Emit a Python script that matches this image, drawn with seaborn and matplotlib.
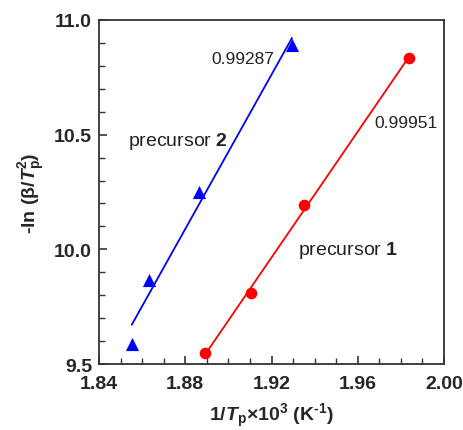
import numpy as np
import pandas as pd
import matplotlib
matplotlib.use("Agg")
import matplotlib.pyplot as plt
import seaborn as sns
from matplotlib.ticker import MultipleLocator

# Data
x_p2 = [1.8552, 1.8632, 1.8864, 1.9295]
y_p2 = [9.587, 9.866, 10.249, 10.893]
x_p1 = [1.8892, 1.9104, 1.9351, 1.9839]
y_p1 = [9.547, 9.811, 10.193, 10.836]
r_p2 = "0.99287"
r_p1 = "0.99951"
x_ticks = [1.84, 1.88, 1.92, 1.96, 2.00]
y_ticks = [9.5, 10.0, 10.5, 11.0]

sns.set_style("ticks")
plt.rcParams['font.family'] = ['Liberation Sans', 'DejaVu Sans']
plt.rcParams['mathtext.fontset'] = 'custom'
plt.rcParams['mathtext.rm'] = 'Liberation Sans'
plt.rcParams['mathtext.bf'] = 'Liberation Sans:bold'
plt.rcParams['mathtext.it'] = 'Liberation Sans:italic'
plt.rcParams['mathtext.bfit'] = 'Liberation Sans:bold:italic'

fig = plt.figure(figsize=(4.63, 4.31), dpi=100)
ax = fig.add_axes([0.2138, 0.1531, 0.959 - 0.2138, 0.9513 - 0.1531])

df2 = pd.DataFrame({"x": x_p2, "y": y_p2})
df1 = pd.DataFrame({"x": x_p1, "y": y_p1})

sns.regplot(data=df2, x="x", y="y", ax=ax, ci=None, truncate=True,
            color="#0000ff", marker="^",
            scatter_kws={"s": 90, "linewidths": 0, "alpha": 1},
            line_kws={"lw": 1.3})
sns.regplot(data=df1, x="x", y="y", ax=ax, ci=None, truncate=True,
            color="#ff0000", marker="o",
            scatter_kws={"s": 70, "linewidths": 0, "alpha": 1},
            line_kws={"lw": 1.3})

ax.set_xlim(1.84, 2.00)
ax.set_ylim(9.5, 11.0)
ax.set_xticks(x_ticks)
ax.set_yticks(y_ticks)
ax.set_xticklabels([f"{v:.2f}" for v in x_ticks], fontweight="bold", fontsize=14)
ax.set_yticklabels([f"{v:.1f}" for v in y_ticks], fontweight="bold", fontsize=14)
ax.xaxis.set_minor_locator(MultipleLocator(0.01))
ax.yaxis.set_minor_locator(MultipleLocator(0.1))
ax.tick_params(which="both", direction="in", top=False, right=False, color="#333333")
ax.tick_params(axis="x", which="major", length=6, width=1.2, pad=8)
ax.tick_params(axis="y", which="major", length=6, width=1.2, pad=5)
ax.tick_params(which="minor", length=4, width=1.0)
for s in ax.spines.values():
    s.set_linewidth(1.3)
    s.set_color("#333333")

hy = "\u2010"
ax.set_xlabel(r"$\mathbf{1/}\mathbfit{T}_\mathbf{p}\mathbf{\times10^3\ (K^{" + hy + r"1})}$",
              fontsize=14, labelpad=6)
ax.set_ylabel(r"$\mathbf{" + hy + r"ln\ (\beta/}\mathbfit{T}_\mathbf{p}^\mathbf{2}\mathbf{)}$",
              fontsize=14, labelpad=5)

ax.text(1.9212, 10.83, r_p2, ha="right", va="center", fontsize=12.5, color="#222222")
ax.text(1.9676, 10.554, r_p1, ha="left", va="center", fontsize=12.5, color="#222222")
ax.text(1.8535, 10.474, r"precursor $\mathbf{2}$", ha="left", va="center", fontsize=14, color="#222222")
ax.text(1.9323, 10.0, r"precursor $\mathbf{1}$", ha="left", va="center", fontsize=14, color="#222222")

fig.savefig("out.png", dpi=100)
